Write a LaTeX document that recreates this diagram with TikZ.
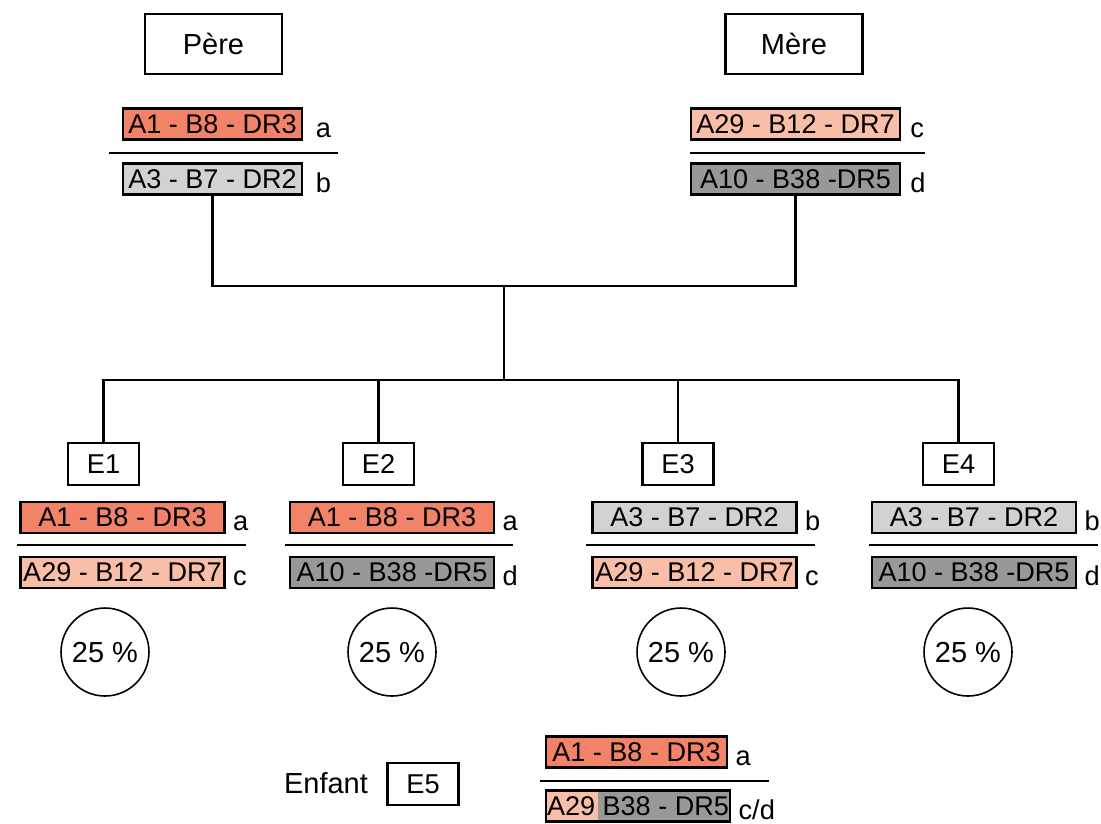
\documentclass[tikz,border=0pt]{standalone}
\usepackage{fontspec}
\setmainfont{Liberation Sans}
\usetikzlibrary{positioning,calc}
\definecolor{haploA}{RGB}{242,131,104}
\definecolor{haploB}{RGB}{210,210,210}
\definecolor{haploC}{RGB}{249,190,168}
\definecolor{haploD}{RGB}{152,152,152}

\begin{document}
\begin{tikzpicture}[x=0.02cm,y=-0.02cm,
    parent/.style={draw,line width=1.5pt,minimum width=2.74cm,minimum height=1.2cm,font=\fontsize{16.5}{19}\selectfont},
    kid/.style={draw,line width=1.2pt,minimum width=1.42cm,minimum height=0.84cm,font=\fontsize{15.5}{18}\selectfont},
    hap/.style={draw,line width=1.4pt,minimum height=0.62cm,inner sep=0pt,font=\fontsize{15.4}{18}\selectfont},
    lbl/.style={anchor=base west,inner sep=0pt,font=\fontsize{15.5}{18}\selectfont},
    pct/.style={draw,circle,line width=0.9pt,minimum size=1.76cm,inner sep=0pt,font=\fontsize{16.5}{19}\selectfont},
    bar/.style={line width=1.1pt},
    link/.style={line width=1.4pt}]
  \useasboundingbox (0,0) rectangle (1101,823);

  % parents
  \node[parent] (pere) at (213.5,44) {Père};
  \node[parent] (mere) at (794,44) {Mère};
  \node[hap,fill=haploA,minimum width=3.58cm] (pa) at (212.5,124) {A1 - B8 - DR3};
  \node[hap,fill=haploB,minimum width=3.58cm] (pb) at (212.5,179) {A3 - B7 - DR2};
  \node[lbl] (pal) at ([xshift=7pt,yshift=2pt]pa.south east) {a};
  \node[lbl] (pbl) at ([xshift=7pt,yshift=2pt]pb.south east) {b};
  \draw[bar] (109,153) -- (338,153);
  \node[hap,fill=haploC,minimum width=4.18cm] (mc) at (795.5,124) {A29 - B12 - DR7};
  \node[hap,fill=haploD,minimum width=4.18cm] (md) at (795.5,179) {A10 - B38 -DR5};
  \node[lbl] (mcl) at ([xshift=5pt,yshift=2pt]mc.south east) {c};
  \node[lbl] (mdl) at ([xshift=5pt,yshift=2pt]md.south east) {d};
  \draw[bar] (690,153) -- (925,153);

  % children
  \node[kid] (e1) at (103.5,464) {E1};
  \node[kid] (e2) at (378.5,464) {E2};
  \node[kid] (e3) at (678,464) {E3};
  \node[kid] (e4) at (958.5,464) {E4};

  \coordinate (join) at (504,286);
  \coordinate (split) at (504,380);
  \draw[link] (pb.south) |- (join) -| (md.south);
  \draw[link] (join) -- (split);
  \foreach \k in {1,...,4}
    \draw[link] (split) -| (e\k.north);

  \node[hap,fill=haploA,minimum width=4.08cm] (e1t) at (122.5,517.5) {A1 - B8 - DR3};
  \node[hap,fill=haploC,minimum width=4.08cm] (e1b) at (122.5,572.5) {A29 - B12 - DR7};
  \node[lbl] (e1tl) at ([xshift=4pt,yshift=2pt]e1t.south east) {a};
  \node[lbl] (e1bl) at ([xshift=4pt,yshift=2pt]e1b.south east) {c};
  \draw[bar] (17,545) -- (246,545);

  \node[hap,fill=haploA,minimum width=4.08cm] (e2t) at (392,517.5) {A1 - B8 - DR3};
  \node[hap,fill=haploD,minimum width=4.08cm] (e2b) at (392,572.5) {A10 - B38 -DR5};
  \node[lbl] (e2tl) at ([xshift=4pt,yshift=2pt]e2t.south east) {a};
  \node[lbl] (e2bl) at ([xshift=4pt,yshift=2pt]e2b.south east) {d};
  \draw[bar] (285,545) -- (513,545);

  \node[hap,fill=haploB,minimum width=4.08cm] (e3t) at (694.5,517.5) {A3 - B7 - DR2};
  \node[hap,fill=haploC,minimum width=4.08cm] (e3b) at (694.5,572.5) {A29 - B12 - DR7};
  \node[lbl] (e3tl) at ([xshift=4pt,yshift=2pt]e3t.south east) {b};
  \node[lbl] (e3bl) at ([xshift=4pt,yshift=2pt]e3b.south east) {c};
  \draw[bar] (586,545) -- (815,545);

  \node[hap,fill=haploB,minimum width=4.08cm] (e4t) at (974,517.5) {A3 - B7 - DR2};
  \node[hap,fill=haploD,minimum width=4.08cm] (e4b) at (974,572.5) {A10 - B38 -DR5};
  \node[lbl] (e4tl) at ([xshift=4pt,yshift=2pt]e4t.south east) {b};
  \node[lbl] (e4bl) at ([xshift=4pt,yshift=2pt]e4b.south east) {d};
  \draw[bar] (869,545) -- (1098,545);

  \node[pct] (p1) at (105,652) {25 \%};
  \node[pct] (p2) at (392,652) {25 \%};
  \node[pct] (p3) at (681,652) {25 \%};
  \node[pct] (p4) at (968,652) {25 \%};

  % recombinant child
  \node[font=\fontsize{16.5}{19}\selectfont] (enfant) at (326,783) {Enfant};
  \node[kid] (e5) at (423,784) {E5};
  \node[hap,fill=haploA,minimum width=3.62cm] (e5t) at (636.5,752) {A1 - B8 - DR3};
  \node[hap,fill=haploD,minimum width=3.68cm,
    path picture={\fill[haploC] (path picture bounding box.south west) rectangle ([xshift=1.04cm]path picture bounding box.north west);}]
    (e5b) at (638,806) {A29 B38 - DR5};
  \node[lbl] (e5tl) at ([xshift=4pt,yshift=2pt]e5t.south east) {a};
  \node[lbl] (e5bl) at ([xshift=4pt,yshift=2pt]e5b.south east) {c/d};
  \draw[bar] (540,781) -- (769,781);
\end{tikzpicture}
\end{document}
